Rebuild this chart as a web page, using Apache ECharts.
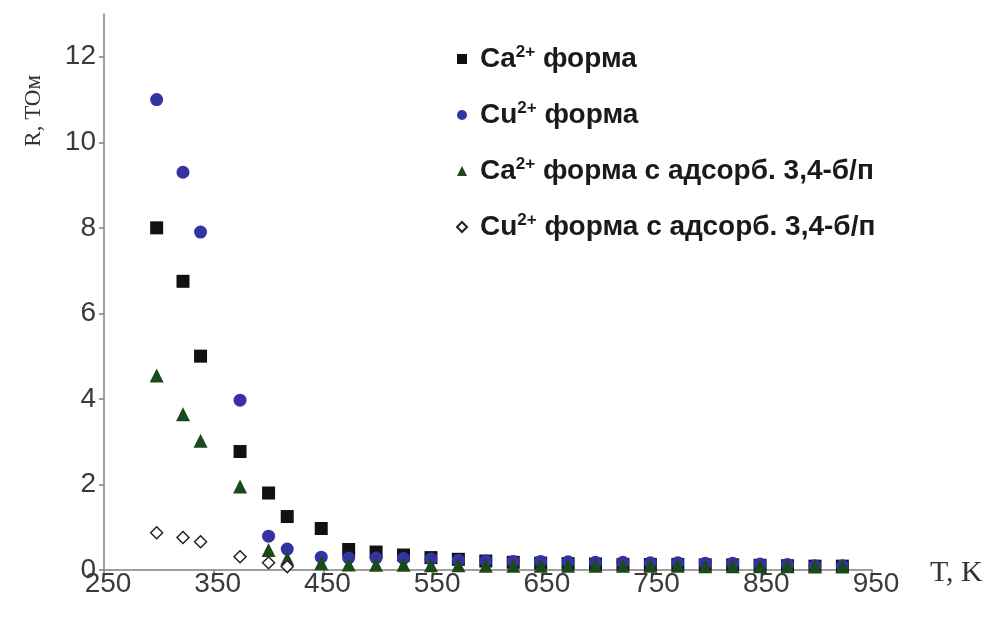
<!DOCTYPE html>
<html>
<head>
<meta charset="utf-8">
<script src="https://cdn.jsdelivr.net/npm/echarts@6/dist/echarts.min.js"></script>
<style>
html,body{margin:0;padding:0;background:#fff;}
#chart{width:987px;height:619px;}
</style>
</head>
<body>
<div id="chart"></div>
<script>
// Temperatures, K
const temps = [298, 322, 338, 374, 400, 417, 448, 473, 498, 523, 548, 573, 598, 623, 648, 673, 698, 723, 748, 773, 798, 823, 848, 873, 898, 923];
// R, TOhm
const caForm = [8.0, 6.75, 5.0, 2.77, 1.8, 1.25, 0.97, 0.48, 0.42, 0.35, 0.29, 0.25, 0.21, 0.18, 0.16, 0.15, 0.14, 0.13, 0.13, 0.13, 0.12, 0.12, 0.11, 0.1, 0.09, 0.09];
const cuForm = [11.0, 9.3, 7.9, 3.97, 0.79, 0.49, 0.3, 0.28, 0.28, 0.27, 0.26, 0.23, 0.21, 0.2, 0.2, 0.19, 0.18, 0.18, 0.17, 0.17, 0.16, 0.16, 0.14, 0.13, 0.1, 0.1];
const caAds = [4.55, 3.64, 3.02, 1.95, 0.47, 0.27, 0.16, 0.13, 0.12, 0.12, 0.11, 0.11, 0.1, 0.1, 0.1, 0.1, 0.1, 0.1, 0.1, 0.1, 0.09, 0.09, 0.09, 0.09, 0.08, 0.08];
const tempsCuAds = [298, 322, 338, 374, 400, 417];
const cuAds = [0.87, 0.76, 0.66, 0.31, 0.17, 0.08];

const seriesNames = ['Ca2+ форма', 'Cu2+ форма', 'Ca2+ форма с адсорб. 3,4-б/п', 'Cu2+ форма с адсорб. 3,4-б/п'];
const xTicks = {min: 250, max: 950, step: 100};
const yTicks = {min: 0, max: 13, step: 2};

function pairs(xs, ys){ return xs.map((x,i)=>[x, ys[i]]); }

const chart = echarts.init(document.getElementById('chart'));
const axisFont = {fontFamily: 'Liberation Sans, Arial, sans-serif', fontSize: 28, color: '#3a3a3a'};
chart.setOption({
  animation: false,
  backgroundColor: '#fff',
  grid: {left: 104, right: 115, top: 14, bottom: 49, containLabel: false},
  xAxis: {
    type: 'value', min: xTicks.min, max: xTicks.max, interval: xTicks.step,
    axisLine: {lineStyle: {color: '#808080', width: 1.5}},
    axisTick: {show: true, length: 6, lineStyle: {color: '#808080', width: 1.5}},
    splitLine: {show: false},
    axisLabel: Object.assign({margin: 0, padding: [0, 0, 0, 8]}, axisFont)
  },
  yAxis: {
    type: 'value', min: yTicks.min, max: yTicks.max, interval: yTicks.step,
    axisLine: {show: true, lineStyle: {color: '#808080', width: 1.5}},
    axisTick: {show: true, length: 5, lineStyle: {color: '#808080', width: 1.5}},
    splitLine: {show: false},
    axisLabel: Object.assign({margin: 8, showMaxLabel: false, padding: [4, 0, 0, 0]}, axisFont)
  },
  legend: {
    orient: 'vertical', left: 451, top: 39,
    itemWidth: 10, itemHeight: 10, itemGap: 27,
    data: seriesNames,
    formatter: function(name){
      const m = name.match(/^(C[au])2\+(.*)$/);
      return '{c|' + m[1] + '}{s|2+}{b|' + m[2] + '}';
    },
    textStyle: {
      rich: {
        c: {fontFamily: 'Liberation Sans, Arial, sans-serif', fontSize: 28, fontWeight: 'bold', color: '#1a1a1a', lineHeight: 30, verticalAlign: 'middle', padding: [0, 0, 0, 8]},
        b: {fontFamily: 'Liberation Sans, Arial, sans-serif', fontSize: 28, fontWeight: 'bold', color: '#1a1a1a', lineHeight: 30, verticalAlign: 'middle'},
        s: {fontFamily: 'Liberation Sans, Arial, sans-serif', fontSize: 17, fontWeight: 'bold', color: '#1a1a1a', lineHeight: 17, verticalAlign: 'top'}
      }
    }
  },
  graphic: [
    {type: 'text', left: 22, top: 75, rotation: Math.PI/2,
     style: {text: 'R, TOм', font: '23px "Liberation Serif", "DejaVu Serif", serif', fill: '#333'}},
    {type: 'text', left: 930, top: 558,
     style: {text: 'T, K', font: '30px "Liberation Serif", "DejaVu Serif", serif', fill: '#333'}}
  ],
  series: [
    {name: seriesNames[0], type: 'scatter', symbol: 'rect', symbolSize: 13,
     itemStyle: {color: '#111111', opacity: 1}, data: pairs(temps, caForm)},
    {name: seriesNames[1], type: 'scatter', symbol: 'circle', symbolSize: 13,
     itemStyle: {color: '#3333a3', opacity: 1}, data: pairs(temps, cuForm)},
    {name: seriesNames[2], type: 'scatter', symbol: 'triangle', symbolSize: 14,
     itemStyle: {color: '#1a4a1a', opacity: 1}, data: pairs(temps, caAds)},
    {name: seriesNames[3], type: 'scatter', symbol: 'diamond', symbolSize: 12,
     itemStyle: {color: '#ffffff', borderColor: '#222', borderWidth: 1.5, opacity: 1}, data: pairs(tempsCuAds, cuAds)}
  ]
});
</script>
</body>
</html>
